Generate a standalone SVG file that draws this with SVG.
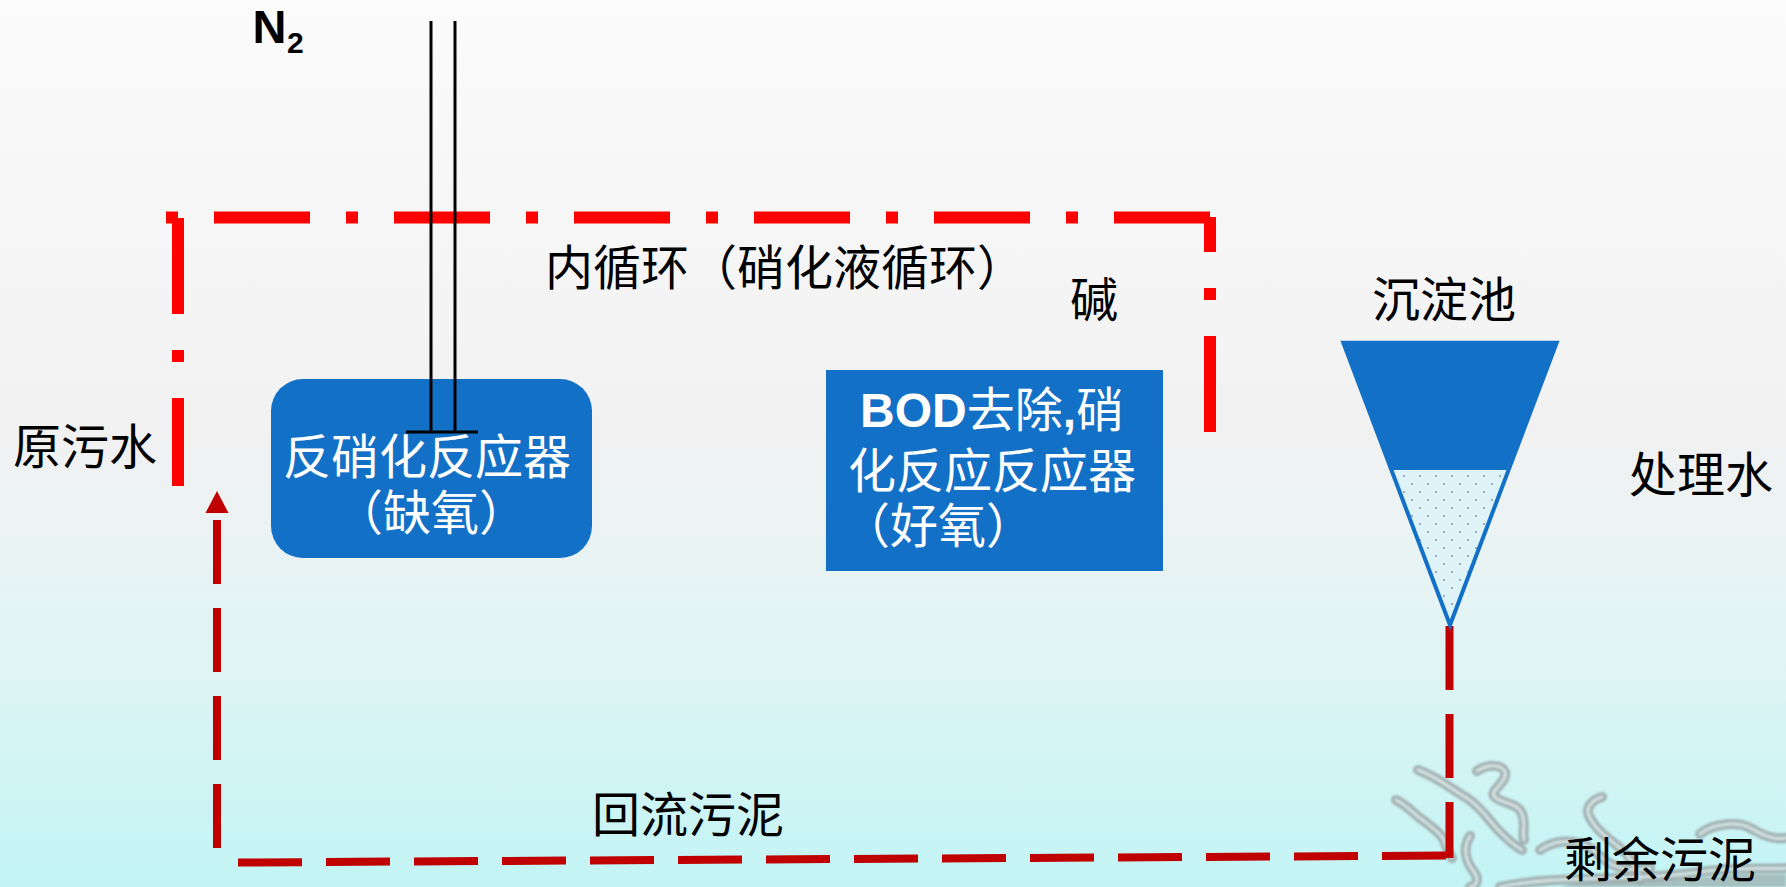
<svg xmlns="http://www.w3.org/2000/svg" width="1786" height="887" viewBox="0 0 1786 887">
  <defs>
    <linearGradient id="bg" x1="0" y1="0" x2="0" y2="1">
      <stop offset="0" stop-color="#FBFBFB"/>
      <stop offset="0.5" stop-color="#F1F1F2"/>
      <stop offset="0.72" stop-color="#E2F4F4"/>
      <stop offset="1" stop-color="#C3F4F5"/>
    </linearGradient>
    <pattern id="sludge" x="0" y="0" width="16" height="16" patternUnits="userSpaceOnUse">
      <rect width="16" height="16" fill="#DDF3F8"/>
      <circle cx="4" cy="4" r="1.1" fill="#8A9CAA"/>
      <circle cx="12" cy="12" r="1.1" fill="#8A9CAA"/>
    </pattern>
    <filter id="soft" x="-10%" y="-10%" width="120%" height="120%">
      <feGaussianBlur stdDeviation="1.3"/>
    </filter>
    <!-- swirl strokes reused for the outline and the highlight pass -->
    <g id="swirls">
      <path d="M1418 770 C1440 778 1452 790 1467 798 C1482 808 1490 822 1500 832 C1508 840 1515 846 1522 850"/>
      <path d="M1396 800 C1408 806 1414 814 1420 818 C1430 826 1440 832 1444 840 C1446 846 1448 852 1452 858"/>
      <path d="M1477 771 C1488 764 1502 764 1505 772 C1508 782 1490 790 1494 796 C1500 804 1518 802 1522 814 C1526 824 1522 832 1524 840"/>
      <path d="M1602 797 C1592 800 1584 808 1590 818 C1596 830 1608 838 1620 848 C1630 856 1636 866 1640 880"/>
      <path d="M1540 850 C1560 836 1585 840 1600 856 C1612 868 1630 872 1650 868"/>
      <path d="M1700 834 C1715 822 1740 822 1750 828 C1762 834 1770 840 1786 838"/>
      <path d="M1470 836 C1462 848 1466 862 1474 872 C1480 880 1476 886 1470 887"/>
      <path d="M1500 887 C1560 874 1640 882 1700 872 C1740 866 1770 870 1786 868"/>
    </g>
    <style>
      .lbl { font-family: "Noto Sans CJK SC", "Noto Sans", sans-serif; font-size: 48px; fill: #000; }
      .in { font-family: "Noto Sans CJK SC", "Noto Sans", sans-serif; font-size: 48px; fill: #FFF; }
      .lat { font-family: "Liberation Sans", Arial, sans-serif; font-weight: bold; }
      .box { fill: #1270C6; }
      .recycle { fill: none; stroke: #FF0000; stroke-width: 12; stroke-dasharray: 96 36 12 36; }
      .return { fill: none; stroke: #C00000; stroke-width: 8; stroke-dasharray: 64 24; }
      .pipe { fill: none; stroke: #000; stroke-width: 3; }
      .orn { fill: none; stroke: #99A2A2; stroke-width: 10; stroke-linecap: round; stroke-linejoin: round; }
      .orn-hi { fill: none; stroke: #D6DEDE; stroke-width: 3; stroke-linecap: round; stroke-linejoin: round; }
    </style>
  </defs>

  <!-- page background -->
  <rect x="0" y="0" width="1786" height="887" fill="url(#bg)"/>

  <!-- ornamental swirls in the lower right corner -->
  <g id="ornament" filter="url(#soft)" opacity="0.8">
    <use href="#swirls" class="orn"/>
    <use href="#swirls" class="orn-hi"/>
    <path d="M1560 887 C1600 876 1660 884 1720 876 C1750 872 1772 876 1786 874 L1786 887 Z" fill="#8E9696" opacity="0.7"/>
  </g>

  <!-- flow lines -->
  <g id="connectors">
    <!-- internal (nitrified liquor) recycle -->
    <line class="recycle" x1="166" y1="217.5" x2="1210" y2="217.5" stroke-dashoffset="132"/>
    <line class="recycle" x1="178" y1="218" x2="178" y2="486"/>
    <line class="recycle" x1="1210" y1="217" x2="1210" y2="432" stroke-dashoffset="61"/>
    <!-- return sludge -->
    <line class="return" x1="1449.5" y1="626" x2="1449.5" y2="858"/>
    <line class="return" x1="238" y1="862.5" x2="1453" y2="855.5"/>
    <line class="return" x1="217" y1="520" x2="217" y2="848"/>
    <polygon points="217,491 205.5,513 228.5,513" fill="#C00000"/>
  </g>

  <!-- anoxic reactor -->
  <g id="denitrification-reactor">
    <rect class="box" x="271" y="379" width="321" height="179" rx="32"/>
    <text class="in" x="283" y="474">反硝化反应器</text>
    <text class="in" x="431" y="530" text-anchor="middle">（缺氧）</text>
  </g>

  <!-- nitrogen gas vent pipe -->
  <g id="n2-pipe">
    <line class="pipe" x1="431" y1="21" x2="431" y2="432"/>
    <line class="pipe" x1="455" y1="21" x2="455" y2="432"/>
    <line class="pipe" x1="406" y1="432" x2="478" y2="432"/>
    <text x="252.5" y="43" class="lat" font-size="47" fill="#000">N</text>
    <text x="287" y="53" class="lat" font-size="30" fill="#000">2</text>
  </g>

  <!-- aerobic reactor -->
  <g id="nitrification-reactor">
    <rect class="box" x="826" y="370" width="337" height="201"/>
    <text class="in" x="992" y="427" text-anchor="middle" font-size="46"><tspan class="lat">BOD</tspan>去除<tspan class="lat">,</tspan>硝</text>
    <text class="in" x="992" y="488" text-anchor="middle">化反应反应器</text>
    <text class="in" x="842" y="543">（好氧）</text>
  </g>

  <!-- settling tank -->
  <g id="settling-tank">
    <polygon points="1343.3,342.7 1556.7,342.7 1506.7,470 1391.7,470" fill="#1270C6"/>
    <polygon points="1391.7,470 1506.7,470 1450,625" fill="url(#sludge)"/>
    <polygon points="1343.3,342.7 1556.7,342.7 1450,625" fill="none" stroke="#1270C6" stroke-width="4" stroke-linejoin="miter"/>
  </g>

  <!-- labels -->
  <g id="labels">
    <text class="lbl" x="13" y="464">原污水</text>
    <text class="lbl" x="545" y="285">内循环（硝化液循环）</text>
    <text class="lbl" x="1070" y="317">碱</text>
    <text class="lbl" x="1372" y="317">沉淀池</text>
    <text class="lbl" x="1629" y="492">处理水</text>
    <text class="lbl" x="592" y="832">回流污泥</text>
    <text class="lbl" x="1564" y="877">剩余污泥</text>
  </g>
</svg>
